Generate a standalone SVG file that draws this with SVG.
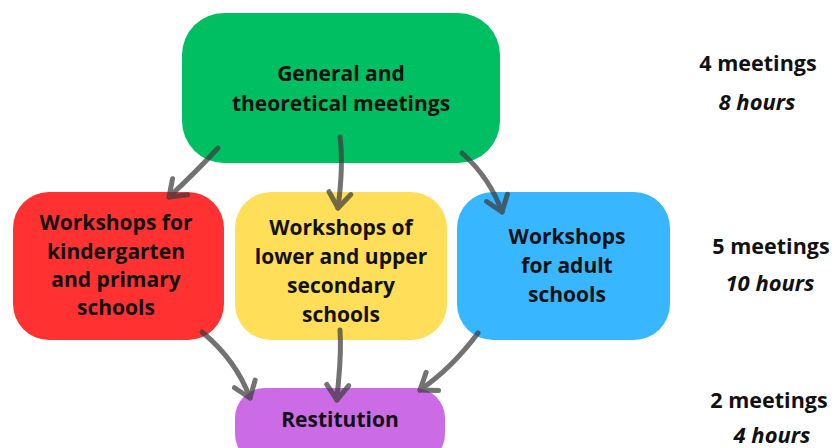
<svg xmlns="http://www.w3.org/2000/svg" width="834" height="448" viewBox="0 0 834 448">
  <defs>
    <marker id="chev" markerUnits="userSpaceOnUse" markerWidth="40" markerHeight="40" viewBox="-20 -20 40 40" refX="0" refY="0" orient="auto">
      <path d="M-15,-11 L0,0 L-15,11" fill="none" stroke="#3c3c3c" stroke-width="5" stroke-linecap="round" stroke-linejoin="round"/>
    </marker>
    <style>
      .lbl { font-family: "Open Sans", "Liberation Sans", sans-serif; font-weight: 700; font-size: 21px; fill: #111; text-anchor: middle; }
      .side { font-family: "Open Sans", "Liberation Sans", sans-serif; font-weight: 700; font-size: 21.5px; fill: #111; text-anchor: middle; }
      .hrs { font-style: italic; font-size: 22px; }
      .wire { fill: none; stroke: #3c3c3c; stroke-width: 5; stroke-linecap: round; marker-end: url(#chev); }
    </style>
  </defs>

  <rect width="834" height="448" fill="#ffffff"/>

  <g id="general">
    <rect x="182" y="13" width="318" height="150" rx="42" fill="#00bf63"/>
    <text class="lbl" x="341" y="81">General and</text>
    <text class="lbl" x="341" y="111">theoretical meetings</text>
  </g>

  <g id="kindergarten">
    <rect x="13" y="192" width="211" height="148" rx="36" fill="#ff3131"/>
    <text class="lbl" x="116" y="230">Workshops for</text>
    <text class="lbl" x="116" y="259">kindergarten</text>
    <text class="lbl" x="116" y="287">and primary</text>
    <text class="lbl" x="116" y="315">schools</text>
  </g>

  <g id="secondary">
    <rect x="235" y="192" width="212" height="148" rx="36" fill="#ffde59"/>
    <text class="lbl" x="341" y="235">Workshops of</text>
    <text class="lbl" x="341" y="264">lower and upper</text>
    <text class="lbl" x="341" y="293">secondary</text>
    <text class="lbl" x="341" y="322">schools</text>
  </g>

  <g id="adult">
    <rect x="457" y="192" width="213" height="148" rx="36" fill="#38b6ff"/>
    <text class="lbl" x="567" y="244">Workshops</text>
    <text class="lbl" x="567" y="273">for adult</text>
    <text class="lbl" x="567" y="302">schools</text>
  </g>

  <g id="restitution">
    <rect x="235" y="388" width="210" height="76" rx="30" fill="#cb6ce6"/>
    <text class="lbl" x="340" y="427">Restitution</text>
  </g>

  <g id="connectors" opacity="0.72">
    <path class="wire" d="M218,148 Q196,172 169,197"/>
    <path class="wire" d="M340,137 C343,160 341,185 338,208"/>
    <path class="wire" d="M462,153 Q490,178 502,212"/>
    <path class="wire" d="M202,332 Q236,360 250,398"/>
    <path class="wire" d="M340,330 C342,360 338,380 337,400"/>
    <path class="wire" d="M478,333 Q452,368 420,390"/>
  </g>

  <g id="schedule">
    <text class="side" x="758" y="71">4 meetings</text>
    <text class="side hrs" x="757" y="110">8 hours</text>
    <text class="side" x="771" y="254">5 meetings</text>
    <text class="side hrs" x="770" y="291">10 hours</text>
    <text class="side" x="769" y="408">2 meetings</text>
    <text class="side hrs" x="772" y="443">4 hours</text>
  </g>
</svg>
